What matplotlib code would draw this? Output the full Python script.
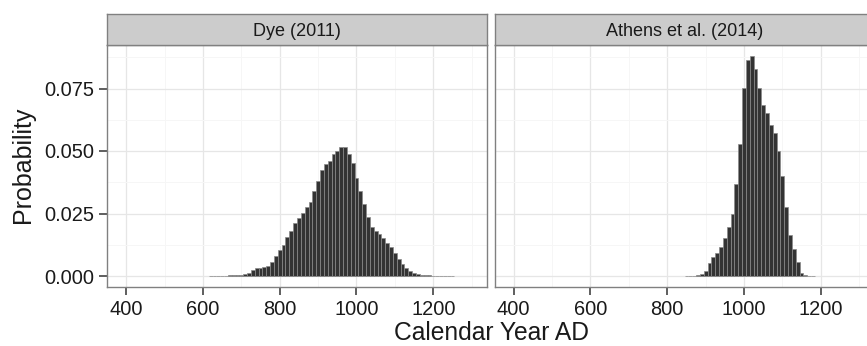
import numpy as np
import matplotlib
matplotlib.use("Agg")
import matplotlib.pyplot as plt

# bin centres (calendar year AD) and probability per 10-year bin
dye_years = [620, 630, 640, 650, 660, 670, 680, 690, 700, 710, 720, 730, 740,
             750, 760, 770, 780, 790, 800, 810, 820, 830, 840, 850, 860, 870,
             880, 890, 900, 910, 920, 930, 940, 950, 960, 970, 980, 990, 1000,
             1010, 1020, 1030, 1040, 1050, 1060, 1070, 1080, 1090, 1100, 1110,
             1120, 1130, 1140, 1150, 1160, 1170, 1180, 1190, 1200, 1210, 1220,
             1230, 1240, 1250]
dye_prob = [0.0001, 0.0001, 0.0001, 0.0002, 0.0002, 0.0003, 0.0004, 0.0005,
            0.0006, 0.0008, 0.0012, 0.0024, 0.0033, 0.0033, 0.0036, 0.0039,
            0.0055, 0.0079, 0.0105, 0.0125, 0.0155, 0.0182, 0.0211, 0.0234,
            0.0253, 0.0276, 0.0297, 0.0342, 0.0379, 0.0424, 0.0447, 0.0460,
            0.0487, 0.0500, 0.0516, 0.0516, 0.0487, 0.0453, 0.0393, 0.0342,
            0.0290, 0.0237, 0.0195, 0.0180, 0.0168, 0.0154, 0.0134, 0.0116,
            0.0092, 0.0070, 0.0050, 0.0033, 0.0020, 0.0013, 0.0008, 0.0005,
            0.0004, 0.0003, 0.0002, 0.0002, 0.0001, 0.0001, 0.0001, 0.0001]

athens_years = [850, 860, 870, 880, 890, 900, 910, 920, 930, 940, 950, 960,
                970, 980, 990, 1000, 1010, 1020, 1030, 1040, 1050, 1060, 1070,
                1080, 1090, 1100, 1110, 1120, 1130, 1140, 1150, 1160, 1170, 1180]
athens_prob = [0.0001, 0.0001, 0.0002, 0.0004, 0.0008, 0.0019, 0.0053, 0.0075,
               0.0094, 0.0118, 0.0151, 0.0198, 0.0250, 0.0368, 0.0530, 0.0754,
               0.0866, 0.0880, 0.0827, 0.0754, 0.0684, 0.0651, 0.0605, 0.0572,
               0.0500, 0.0400, 0.0276, 0.0166, 0.0108, 0.0055, 0.0013, 0.0005,
               0.0002, 0.0001]

panel_titles = ["Dye (2011)", "Athens et al. (2014)"]
x_ticks = [400, 600, 800, 1000, 1200]
y_ticks = [0.000, 0.025, 0.050, 0.075]

W, H = 867, 346


def px_box(left, top, width, height):
    # pixel box (top-left origin) -> figure fraction
    return [left / W, (H - top - height) / H, width / W, height / H]


def main():
    plt.rcParams["font.family"] = ["Liberation Sans", "DejaVu Sans"]
    fig = plt.figure(figsize=(W / 100, H / 100), dpi=100)
    fig.patch.set_facecolor("white")

    series = [(dye_years, dye_prob), (athens_years, athens_prob)]
    lefts = [107, 494.5]
    panel_w = 380

    for i, (years, prob) in enumerate(series):
        ax = fig.add_axes(px_box(lefts[i], 45, panel_w, 242))
        ax.set_axisbelow(True)
        ax.bar(years, prob, width=10, color="#333333", edgecolor="#8a8a8a",
               linewidth=0.5, zorder=3)

        ax.set_xlim(350, 1340)
        ax.set_ylim(-0.0044, 0.0924)
        ax.set_xticks(x_ticks)
        ax.set_xticks([500, 700, 900, 1100, 1300], minor=True)
        ax.set_yticks(y_ticks)
        ax.set_yticks([0.0125, 0.0375, 0.0625, 0.0875], minor=True)
        ax.set_xticklabels([str(t) for t in x_ticks])

        ax.grid(which="major", color="#e6e6e6", linewidth=0.9)
        ax.grid(which="minor", color="#f6f6f6", linewidth=0.7)
        ax.tick_params(which="major", length=6, width=1.1, color="#333333",
                       labelsize=14.4, labelcolor="#1a1a1a", pad=3.5)
        ax.tick_params(which="minor", length=0)
        if i == 0:
            ax.set_yticklabels([f"{t:.3f}" for t in y_ticks])
        else:
            ax.tick_params(axis="y", which="major", length=0, labelleft=False)
        for sp in ax.spines.values():
            sp.set_color("#808080")
            sp.set_linewidth(1.0)

        # facet strip
        strip = fig.add_axes(px_box(lefts[i], 14, panel_w, 31))
        strip.set_facecolor("#cccccc")
        strip.set_xticks([])
        strip.set_yticks([])
        for sp in strip.spines.values():
            sp.set_color("#808080")
            sp.set_linewidth(1.0)
        strip.text(0.5, 0.45, panel_titles[i], ha="center", va="center",
                   fontsize=13, color="#1a1a1a", transform=strip.transAxes)

    fig.text(491.5 / W, 6 / H, "Calendar Year AD", ha="center",
             va="baseline", fontsize=17.7, color="#1a1a1a")
    fig.text(23 / W, (H - 165) / H, "Probability", ha="center", va="center",
             rotation=90, fontsize=18, color="#1a1a1a")

    plt.savefig("out.png", dpi=100)


if __name__ == "__main__":
    main()
